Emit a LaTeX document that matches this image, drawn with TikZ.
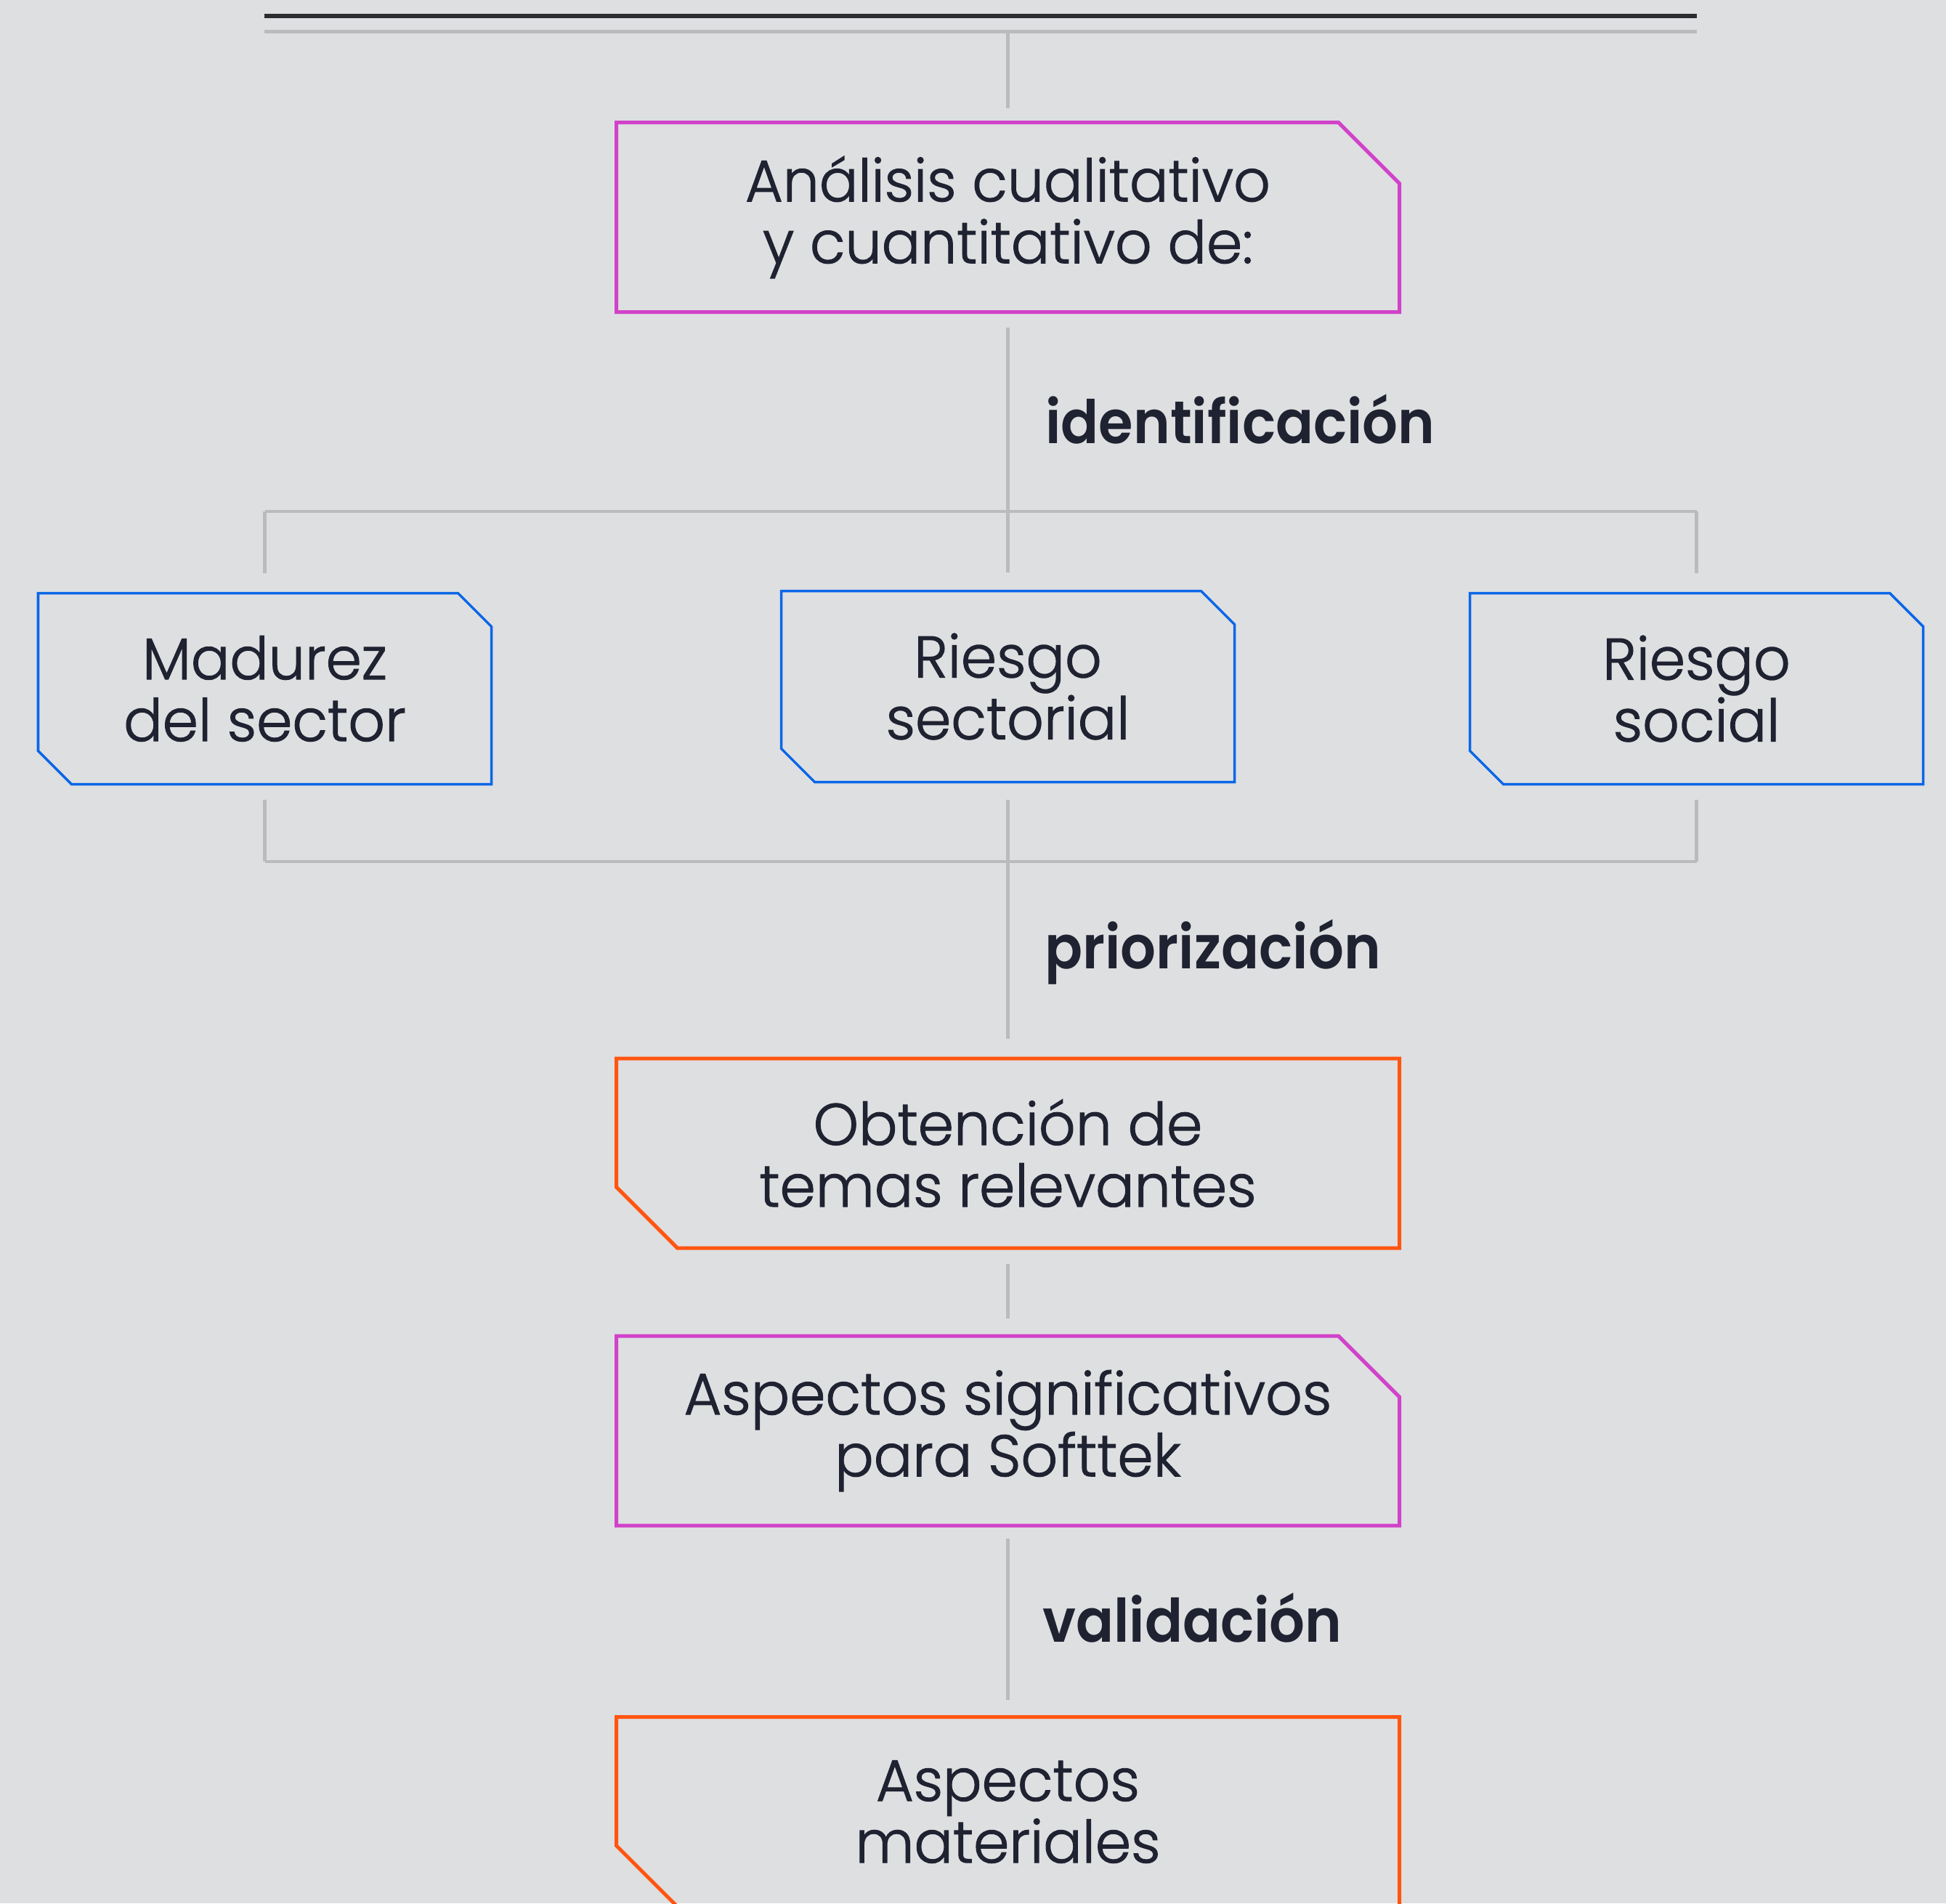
\documentclass[tikz,border=0pt]{standalone}
\usepackage{fontspec}
\setmainfont[FakeStretch=0.98, FakeBold=1.3]{Poppins Light}
\newfontfamily\tagfont[FakeStretch=0.93]{Poppins SemiBold}
\usepackage{tikz}
\usetikzlibrary{positioning, calc}
\definecolor{bgpage}{HTML}{DEDFE1}
\definecolor{inkdark}{HTML}{1F2230}
\definecolor{rulegray}{HTML}{BABBBD}
\definecolor{rulebar}{HTML}{2C2C31}
\definecolor{sftmagenta}{HTML}{D142C9}
\definecolor{sftblue}{HTML}{0A66E8}
\definecolor{sftorange}{HTML}{FF5511}
% chamfered outlines round a named node: #1 node, #2 draw options, #3 cut
\newcommand{\outlineNE}[3]{\draw[#2] (#1.south west) -- (#1.south east)
  -- ([yshift=-#3]#1.north east) -- ([xshift=-#3]#1.north east) -- (#1.north west) -- cycle;}
\newcommand{\outlineSW}[3]{\draw[#2] ([xshift=#3]#1.south west) -- (#1.south east)
  -- (#1.north east) -- (#1.north west) -- ([yshift=#3]#1.south west) -- cycle;}
\newcommand{\outlineDiag}[3]{\draw[#2] ([xshift=#3]#1.south west) -- (#1.south east)
  -- ([yshift=-#3]#1.north east) -- ([xshift=-#3]#1.north east) -- (#1.north west)
  -- ([yshift=#3]#1.south west) -- cycle;}

\begin{document}
\begin{tikzpicture}[
    every node/.style={text=inkdark},
    boxtext/.style={align=center, inner sep=0pt, outer sep=0pt,
                    font=\fontsize{23}{24.2}\selectfont},
    wide/.style={boxtext, minimum width=10.78cm, minimum height=2.61cm},
    narrow/.style={boxtext, minimum width=6.24cm, minimum height=2.63cm},
    pink/.style={draw=sftmagenta, line width=1.42pt},
    orng/.style={draw=sftorange, line width=1.42pt},
    blu/.style={draw=sftblue, line width=1pt},
    link/.style={draw=rulegray, line width=1.3pt},
    tag/.style={anchor=base west, font=\fontsize{23.5}{26}\tagfont}
  ]
  % page and top rules
  \fill[bgpage] (0,0) rectangle (26.79,-26.20);
  \useasboundingbox (0,0) rectangle (26.79,-26.20);
  \draw[rulebar, line width=1.7pt] (3.64,-0.22) -- (23.36,-0.22);
  \draw[rulegray, line width=1.35pt] (3.64,-0.435) -- (23.36,-0.435);
  \coordinate (rule) at (13.875,-0.435);

  % analysis
  \node[wide] (anal) at (13.875,-2.99) {Análisis cualitativo\\ y cuantitativo de:};
  \outlineNE{anal}{pink}{0.84cm}
  \draw[link, shorten >=0.2cm] (rule) -- (anal.north);
  \coordinate (split) at (13.875,-7.04);
  \draw[link, shorten <=0.21cm] (anal.south) -- (split);
  \node[tag] (ident) at (14.27,-6.10) {identificación};

  % three sources
  \node[narrow] (madur) at (3.645,-9.48) {Madurez\\del sector};
  \node[narrow] (sector) at (13.875,-9.45) {Riesgo\\sectorial};
  \node[narrow] (social) at (23.355,-9.48) {Riesgo\\social};
  \outlineDiag{madur}{blu}{0.46cm}
  \outlineDiag{sector}{blu}{0.46cm}
  \outlineDiag{social}{blu}{0.46cm}
  \draw[link] (madur.north |- split) -- (social.north |- split);
  \draw[link, shorten >=0.28cm] (madur.north |- split) -- (madur.north);
  \draw[link, shorten >=0.26cm] (split) -- (sector.north);
  \draw[link, shorten >=0.28cm] (social.north |- split) -- (social.north);

  \coordinate (merge) at (13.875,-11.86);
  \draw[link] (madur.south |- merge) -- (social.south |- merge);
  \draw[link, shorten <=0.21cm] (madur.south) -- (madur.south |- merge);
  \draw[link, shorten <=0.24cm] (sector.south) -- (merge);
  \draw[link, shorten <=0.21cm] (social.south) -- (social.south |- merge);
  \node[tag] (prior) at (14.26,-13.33) {priorización};

  % results
  \node[wide] (obten) at (13.875,-15.875) {Obtención de\\temas relevantes};
  \outlineSW{obten}{orng}{0.84cm}
  \draw[link, shorten >=0.27cm] (merge) -- (obten.north);
  \node[wide] (signif) at (13.875,-19.695) {Aspectos significativos\\para Softtek};
  \outlineNE{signif}{pink}{0.84cm}
  \draw[link, shorten <=0.22cm, shorten >=0.24cm] (obten.south) -- (signif.north);
  \node[wide] (mater) at (13.875,-24.94) {Aspectos\\materiales};
  \outlineSW{mater}{orng}{0.84cm}
  \draw[link, shorten <=0.18cm, shorten >=0.24cm] (signif.south) -- (mater.north);
  \node[tag] (valid) at (14.23,-22.60) {validación};
\end{tikzpicture}
\end{document}
